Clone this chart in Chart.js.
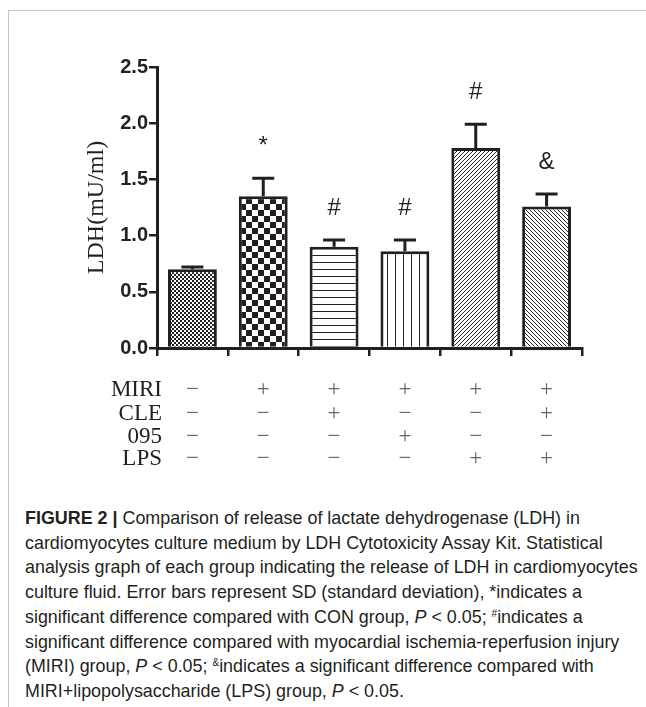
<!DOCTYPE html>
<html>
<head>
<meta charset="utf-8">
<script src="https://cdn.jsdelivr.net/npm/chart.js@4"></script>
<style>
  html, body { margin: 0; padding: 0; background: #fff; }
  #wrap { position: relative; width: 646px; height: 707px; overflow: hidden; }
  #frame { position: absolute; left: 8px; top: 10px; width: 700px; height: 720px;
           border-top: 1px solid #c4c4c4; border-left: 1px solid #c4c4c4; }
  #chartBox { position: absolute; left: 0; top: 0; width: 646px; height: 480px; }
  #caption { position: absolute; left: 25px; top: 506px; width: 620px;
             font-family: "Liberation Sans", Arial, sans-serif; font-size: 17.9px;
             line-height: 24.7px; color: #231f20; white-space: nowrap; }
  #caption b { font-weight: bold; }
  #caption sup { font-size: 10px; line-height: 0; vertical-align: 6px; }
</style>
</head>
<body>
<div id="wrap">
  <div id="frame"></div>
  <div id="chartBox"><canvas id="ldhChart" width="646" height="480"></canvas></div>
  <div id="caption">
    <b>FIGURE 2 |</b> Comparison of release of lactate dehydrogenase (LDH) in<br>
    cardiomyocytes culture medium by LDH Cytotoxicity Assay Kit. Statistical<br>
    analysis graph of each group indicating the release of LDH in cardiomyocytes<br>
    culture fluid. Error bars represent SD (standard deviation), *indicates a<br>
    significant difference compared with CON group, <i>P</i> &lt; 0.05; <sup>#</sup>indicates a<br>
    significant difference compared with myocardial ischemia-reperfusion injury<br>
    (MIRI) group, <i>P</i> &lt; 0.05; <sup>&amp;</sup>indicates a significant difference compared with<br>
    MIRI+lipopolysaccharide (LPS) group, <i>P</i> &lt; 0.05.
  </div>
</div>
<script>
// groups (x positions), values and SD
const groups = ["CON", "MIRI", "MIRI+CLE", "MIRI+095", "MIRI+LPS", "MIRI+LPS+CLE"];
const ldhMean = [0.70, 1.35, 0.90, 0.86, 1.78, 1.26];
const ldhSD = [0.02, 0.16, 0.06, 0.10, 0.21, 0.11];
const marks = ["", "*", "#", "#", "#", "&"];

// treatment table under the x axis
const rowNames = ["MIRI", "CLE", "095", "LPS"];
const rowMIRI = ["−", "+", "+", "+", "+", "+"];
const rowCLE = ["−", "−", "+", "−", "−", "+"];
const row095 = ["−", "−", "−", "+", "−", "−"];
const rowLPS = ["−", "−", "−", "−", "+", "+"];
const tableRows = [rowMIRI, rowCLE, row095, rowLPS];

const yTicks = [0, 0.5, 1.0, 1.5, 2.0, 2.5];

const ink = "#231f20";

// fill patterns, one per bar
function makePattern(kind) {
  const c = document.createElement("canvas");
  const g = c.getContext("2d");
  let s;
  if (kind === "fineCheck") {
    s = 4; c.width = c.height = s;
    g.fillStyle = "#fff"; g.fillRect(0, 0, s, s);
    g.fillStyle = ink; g.fillRect(0, 0, 2, 2); g.fillRect(2, 2, 2, 2);
  } else if (kind === "bigCheck") {
    s = 12; c.width = c.height = s;
    g.fillStyle = "#fff"; g.fillRect(0, 0, s, s);
    g.fillStyle = ink; g.fillRect(0, 0, 6, 6); g.fillRect(6, 6, 6, 6);
  } else if (kind === "hLines") {
    s = 7; c.width = c.height = s;
    g.fillStyle = "#fff"; g.fillRect(0, 0, s, s);
    g.fillStyle = ink; g.fillRect(0, 3, s, 1);
  } else if (kind === "vLines") {
    s = 8; c.width = c.height = s;
    g.fillStyle = "#fff"; g.fillRect(0, 0, s, s);
    g.fillStyle = ink; g.fillRect(3, 0, 1, s);
  } else {
    s = 4; c.width = c.height = s;
    g.fillStyle = "#fff"; g.fillRect(0, 0, s, s);
    g.strokeStyle = ink; g.lineWidth = 1;
    g.beginPath();
    if (kind === "fwd") {
      g.moveTo(-1, s + 1); g.lineTo(s + 1, -1);
      g.moveTo(-1, 1); g.lineTo(1, -1);
      g.moveTo(s - 1, s + 1); g.lineTo(s + 1, s - 1);
    } else {
      g.moveTo(-1, -1); g.lineTo(s + 1, s + 1);
      g.moveTo(s - 1, -1); g.lineTo(s + 1, 1);
      g.moveTo(-1, s - 1); g.lineTo(1, s + 1);
    }
    g.stroke();
  }
  return document.getElementById("ldhChart").getContext("2d").createPattern(c, "repeat");
}
const fills = ["fineCheck", "bigCheck", "hLines", "vLines", "fwd", "back"].map(makePattern);

// error bars + significance marks
const errorBars = {
  id: "errorBars",
  afterDatasetsDraw(chart) {
    const ctx = chart.ctx;
    const y = chart.scales.y;
    const meta = chart.getDatasetMeta(0);
    ctx.save();
    ctx.strokeStyle = ink;
    ctx.lineWidth = 3;
    meta.data.forEach((bar, i) => {
      const top = y.getPixelForValue(ldhMean[i]);
      const hi = y.getPixelForValue(ldhMean[i] + ldhSD[i]);
      ctx.beginPath();
      ctx.moveTo(bar.x, top);
      ctx.lineTo(bar.x, hi);
      ctx.moveTo(bar.x - 11, hi);
      ctx.lineTo(bar.x + 11, hi);
      ctx.stroke();
      if (marks[i]) {
        ctx.fillStyle = ink;
        ctx.font = "24px 'Liberation Sans', Arial, sans-serif";
        ctx.textAlign = "center";
        ctx.textBaseline = "alphabetic";
        ctx.fillText(marks[i], bar.x, hi - 25);
      }
    });
    ctx.restore();
  }
};

// +/- table
const treatTable = {
  id: "treatTable",
  afterDraw(chart) {
    const ctx = chart.ctx;
    const x = chart.scales.x;
    const rowY = [390, 414, 437, 459];
    ctx.save();
    ctx.textBaseline = "middle";
    rowNames.forEach((name, r) => {
      ctx.fillStyle = ink;
      ctx.font = "23px 'Liberation Serif', 'Times New Roman', serif";
      ctx.textAlign = "right";
      ctx.fillText(name, 162, rowY[r]);
      ctx.fillStyle = "#666";
      ctx.font = "23px 'Liberation Serif', 'Times New Roman', serif";
      ctx.textAlign = "center";
      tableRows[r].forEach((sign, i) => {
        ctx.fillText(sign, x.getPixelForValue(i), rowY[r]);
      });
    });
    ctx.restore();
  }
};

new Chart(document.getElementById("ldhChart"), {
  type: "bar",
  data: {
    labels: groups,
    datasets: [{
      data: ldhMean,
      backgroundColor: fills,
      borderColor: ink,
      borderWidth: 3,
      borderSkipped: "bottom",
      barPercentage: 0.69,
      categoryPercentage: 1.0
    }]
  },
  options: {
    responsive: false,
    animation: false,
    layout: { padding: { left: 78, right: 64, top: 67, bottom: 122 } },
    plugins: { legend: { display: false }, tooltip: { enabled: false } },
    scales: {
      x: {
        afterFit(s) { s.height = 10; },
        grid: { display: true, drawOnChartArea: false, drawTicks: true, tickLength: 8, color: ink, lineWidth: 2.5 },
        border: { display: true, color: ink, width: 3 },
        ticks: { display: false }
      },
      y: {
        min: 0,
        max: 2.5,
        afterFit(s) { s.width = 79; },
        afterBuildTicks(s) { s.ticks = yTicks.map(v => ({ value: v })); },
        grid: { display: true, drawOnChartArea: false, drawTicks: true, tickLength: 8, color: ink, lineWidth: 2.5 },
        border: { display: true, color: ink, width: 3 },
        ticks: {
          padding: 1,
          color: ink,
          font: { family: "'Liberation Sans', Arial", size: 20, weight: "bold" },
          callback: v => v.toFixed(1)
        },
        title: {
          display: true,
          text: "LDH(mU/ml)",
          color: ink,
          padding: { top: 4, bottom: 4 },
          font: { family: "'Liberation Serif', 'Times New Roman', serif", size: 24 }
        }
      }
    }
  },
  plugins: [errorBars, treatTable]
});
</script>
</body>
</html>
